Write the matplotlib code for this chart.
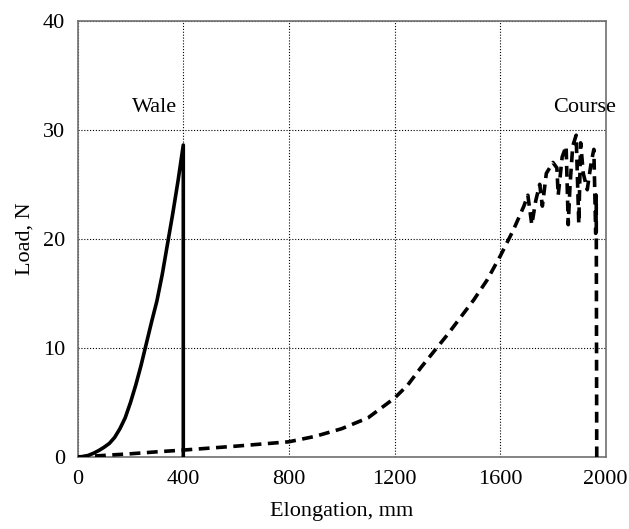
import matplotlib
matplotlib.use("Agg")
import matplotlib.pyplot as plt

# Wale (solid)
wale_x = [0, 20, 40, 60, 80, 100, 120, 140, 160, 180, 200, 220, 240, 260, 280,
          300, 320, 340, 360, 380, 400, 400]
wale_y = [0, 0.05, 0.15, 0.35, 0.6, 0.9, 1.25, 1.8, 2.6, 3.6, 5.0, 6.6, 8.4,
          10.4, 12.4, 14.3, 16.7, 19.5, 22.3, 25.3, 28.6, 0]

# Course (dashed)
course_x = [0, 100, 200, 300, 400, 500, 600, 700, 800, 900, 1000, 1100, 1200,
            1250, 1300, 1350, 1400, 1450, 1500, 1550, 1600, 1650, 1690, 1705,
            1720, 1735, 1750, 1760, 1775, 1800, 1815, 1820, 1835, 1850, 1858, 1865,
            1875, 1888, 1898, 1905, 1915, 1930, 1945, 1955, 1962, 1964, 1966]
course_y = [0, 0.15, 0.3, 0.48, 0.64, 0.82, 1.0, 1.2, 1.4, 1.9, 2.6, 3.6, 5.4,
            6.6, 8.2, 9.7, 11.2, 12.8, 14.4, 16.2, 18.4, 20.8, 23.0, 24.0,
            21.3, 23.5, 25.0, 23.0, 26.0, 27.0, 26.5, 24.0, 27.5, 28.5, 21.3, 25.0,
            28.5, 29.5, 21.4, 28.8, 26.0, 24.5, 27.0, 28.2, 20.5, 24.0, 0]

xticks = [0, 400, 800, 1200, 1600, 2000]
yticks = [0, 10, 20, 30, 40]

plt.rcParams['font.family'] = ['Liberation Serif', 'DejaVu Serif']
fig = plt.figure(figsize=(6.29, 5.29), dpi=100)
ax = fig.add_axes([0.1235, 0.136, 0.8395, 0.825])

ax.plot(wale_x, wale_y, color='black', lw=2.6, solid_joinstyle='round', zorder=3)
ax.plot(course_x, course_y, color='black', lw=2.6, dashes=(3.0, 1.8), zorder=3)

ax.set_xlim(0, 2000)
ax.set_ylim(0, 40)
ax.set_xticks(xticks)
ax.set_yticks(yticks)
ax.tick_params(length=0, labelsize=16, pad=9, colors='black')
ax.grid(True, color='black', lw=0.8, linestyle=(0, (1.0, 1.6)))
ax.set_axisbelow(True)
for s in ax.spines.values():
    s.set_color('#707070')
    s.set_linewidth(1.2)

ax.set_xlabel('Elongation, mm', fontsize=16, labelpad=10)
ax.set_ylabel('Load, N', fontsize=16, labelpad=6)

ax.text(293, 32, 'Wale', fontsize=16, ha='center', va='center')
ax.text(1921, 32, 'Course', fontsize=16, ha='center', va='center')

fig.savefig('out.png', dpi=100)
